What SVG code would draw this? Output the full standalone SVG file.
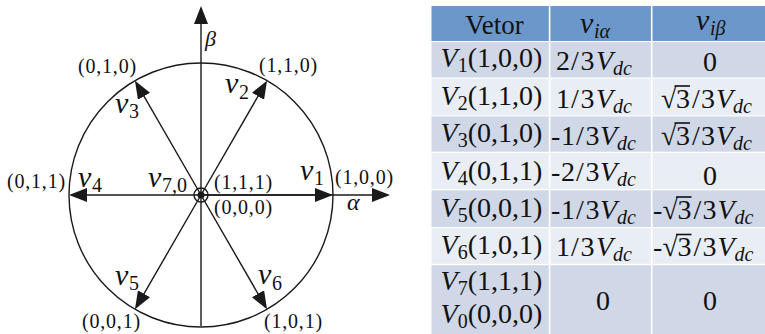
<svg xmlns="http://www.w3.org/2000/svg" width="765" height="334" viewBox="0 0 765 334">
<style>
.ln{stroke:#1a1a1a;stroke-width:1.4;fill:none}
.ar{stroke:#1a1a1a;stroke-width:1.4;fill:none;marker-end:url(#ah)}
.t{font-family:"Liberation Serif","Times New Roman",serif;fill:#111}
.i{font-style:italic}
.lab{font-size:20px;letter-spacing:0.8px}
.vl{font-size:30px;font-style:italic}
.vs{font-size:20px;font-style:normal}
.tb{font-size:28px}
.sb{font-size:20px}
.hd{fill:#6b97cb}
.dk{fill:#d0d8e8}
.lt{fill:#e9edf4}
.ov{stroke:#111;stroke-width:1.6}
</style>
<defs>
<marker id="ah" viewBox="0 0 18 14" markerWidth="18" markerHeight="14" refX="16" refY="7" orient="auto" markerUnits="userSpaceOnUse">
<path d="M0,0 L18,7 L0,14 Z" fill="#1a1a1a"/>
</marker>
</defs>
<rect width="765" height="334" fill="#fff"/>

<g id="circle">
<circle cx="201" cy="195" r="132" class="ln"/>
</g>

<g id="connectors">
<line class="ar" x1="201" y1="326" x2="201" y2="8"/>
<line class="ar" x1="201" y1="195" x2="388" y2="195"/>
<line class="ar" x1="201" y1="195" x2="331" y2="195"/>
<line class="ar" x1="201" y1="195" x2="71" y2="195"/>
<line class="ar" x1="201" y1="195" x2="266" y2="82.42"/>
<line class="ar" x1="201" y1="195" x2="136" y2="82.42"/>
<line class="ar" x1="201" y1="195" x2="136" y2="307.58"/>
<line class="ar" x1="201" y1="195" x2="266" y2="307.58"/>
</g>

<g id="origin">
<circle cx="201" cy="195" r="7" class="ln"/>
<circle cx="201" cy="195" r="3.5" fill="#1a1a1a"/>
</g>

<g id="axis-labels">
<text class="t i" style="font-size:22px" x="205" y="46">β</text>
<text class="t i" style="font-size:24px" x="347" y="210">α</text>
</g>

<g id="vector-labels">
<text class="t vl" x="115" y="113">v<tspan class="vs" x="129" y="118">3</tspan></text>
<text class="t vl" x="225" y="93">v<tspan class="vs" x="239" y="99">2</tspan></text>
<text class="t vl" x="300" y="180">v<tspan class="vs" x="314" y="185">1</tspan></text>
<text class="t vl" x="78" y="187">v<tspan class="vs" x="92" y="192">4</tspan></text>
<text class="t vl" x="148" y="187">v<tspan class="vs" x="162" y="192">7,0</tspan></text>
<text class="t vl" x="115" y="285">v<tspan class="vs" x="129" y="290">5</tspan></text>
<text class="t vl" x="258" y="284">v<tspan class="vs" x="272" y="290">6</tspan></text>
</g>

<g id="state-labels">
<text class="t lab" x="78" y="73">(0,1,0)</text>
<text class="t lab" x="259" y="72">(1,1,0)</text>
<text class="t lab" x="335" y="184">(1,0,0)</text>
<text class="t lab" x="7" y="188">(0,1,1)</text>
<text class="t lab" x="214" y="189">(1,1,1)</text>
<text class="t lab" x="214" y="214">(0,0,0)</text>
<text class="t lab" x="82" y="328">(0,0,1)</text>
<text class="t lab" x="264" y="328">(1,0,1)</text>
</g>

<g id="table">
<rect class="hd" x="431.5" y="6" width="333.5" height="35"/>
<rect class="dk" x="431.5" y="42" width="333.5" height="35.5"/>
<rect class="lt" x="431.5" y="78.8" width="333.5" height="36.5"/>
<rect class="dk" x="431.5" y="116.4" width="333.5" height="35.3"/>
<rect class="lt" x="431.5" y="153" width="333.5" height="36"/>
<rect class="dk" x="431.5" y="190.3" width="333.5" height="36.7"/>
<rect class="lt" x="431.5" y="228.2" width="333.5" height="35.6"/>
<rect class="dk" x="431.5" y="265.2" width="333.5" height="68.8"/>
<line x1="549.6" y1="0" x2="549.6" y2="334" stroke="#fff" stroke-width="1.6"/>
<line x1="651.7" y1="0" x2="651.7" y2="334" stroke="#fff" stroke-width="1.6"/>

<g id="header">
<text class="t" style="font-size:27px" x="494.5" y="34" text-anchor="middle">Vetor</text>
<text class="t vl" x="580" y="32.5">v<tspan class="i sb" x="594" y="37.5">iα</tspan></text>
<text class="t vl" x="696" y="29.5">v<tspan class="i sb" x="710" y="34.5">iβ</tspan></text>
</g>

<g id="col1">
<text class="t tb" x="491.5" y="67" text-anchor="middle"><tspan class="i">V</tspan><tspan class="sb" dy="5">1</tspan><tspan dy="-5">(1,0,0)</tspan></text>
<text class="t tb" x="491.5" y="105" text-anchor="middle"><tspan class="i">V</tspan><tspan class="sb" dy="5">2</tspan><tspan dy="-5">(1,1,0)</tspan></text>
<text class="t tb" x="491.5" y="142" text-anchor="middle"><tspan class="i">V</tspan><tspan class="sb" dy="5">3</tspan><tspan dy="-5">(0,1,0)</tspan></text>
<text class="t tb" x="491.5" y="179.5" text-anchor="middle"><tspan class="i">V</tspan><tspan class="sb" dy="5">4</tspan><tspan dy="-5">(0,1,1)</tspan></text>
<text class="t tb" x="491.5" y="216.5" text-anchor="middle"><tspan class="i">V</tspan><tspan class="sb" dy="5">5</tspan><tspan dy="-5">(0,0,1)</tspan></text>
<text class="t tb" x="491.5" y="253.5" text-anchor="middle"><tspan class="i">V</tspan><tspan class="sb" dy="5">6</tspan><tspan dy="-5">(1,0,1)</tspan></text>
<text class="t tb" x="491.5" y="290" text-anchor="middle"><tspan class="i">V</tspan><tspan class="sb" dy="5">7</tspan><tspan dy="-5">(1,1,1)</tspan></text>
<text class="t tb" x="491.5" y="323" text-anchor="middle"><tspan class="i">V</tspan><tspan class="sb" dy="5">0</tspan><tspan dy="-5">(0,0,0)</tspan></text>
</g>

<g id="col2">
<text class="t tb" y="70"><tspan x="556">2</tspan><tspan x="571">/</tspan><tspan x="580.5">3</tspan><tspan class="i" x="596">V</tspan><tspan class="i sb" x="613" dy="5">dc</tspan></text>
<text class="t tb" y="107.5"><tspan x="556">1</tspan><tspan x="571">/</tspan><tspan x="580.5">3</tspan><tspan class="i" x="596">V</tspan><tspan class="i sb" x="613" dy="5">dc</tspan></text>
<text class="t tb" y="144.5"><tspan x="551">-</tspan><tspan x="561">1</tspan><tspan x="576">/</tspan><tspan x="585.5">3</tspan><tspan class="i" x="600">V</tspan><tspan class="i sb" x="617" dy="5">dc</tspan></text>
<text class="t tb" y="181"><tspan x="551">-</tspan><tspan x="561">2</tspan><tspan x="576">/</tspan><tspan x="585.5">3</tspan><tspan class="i" x="600">V</tspan><tspan class="i sb" x="617" dy="5">dc</tspan></text>
<text class="t tb" y="218.5"><tspan x="551">-</tspan><tspan x="561">1</tspan><tspan x="576">/</tspan><tspan x="585.5">3</tspan><tspan class="i" x="600">V</tspan><tspan class="i sb" x="617" dy="5">dc</tspan></text>
<text class="t tb" y="256"><tspan x="556">1</tspan><tspan x="571">/</tspan><tspan x="580.5">3</tspan><tspan class="i" x="596">V</tspan><tspan class="i sb" x="613" dy="5">dc</tspan></text>
<text class="t tb" x="603" y="310" text-anchor="middle">0</text>
</g>

<g id="col3">
<text class="t tb" x="710" y="70.5" text-anchor="middle">0</text>
<text class="t tb" y="107.5"><tspan x="661">√</tspan><tspan x="676">3</tspan><tspan x="692">/</tspan><tspan x="701">3</tspan><tspan class="i" x="716">V</tspan><tspan class="i sb" x="733" dy="5">dc</tspan></text>
<line class="ov" x1="674.5" y1="86" x2="690" y2="86"/>
<text class="t tb" y="144.5"><tspan x="661">√</tspan><tspan x="676">3</tspan><tspan x="692">/</tspan><tspan x="701">3</tspan><tspan class="i" x="716">V</tspan><tspan class="i sb" x="733" dy="5">dc</tspan></text>
<line class="ov" x1="674.5" y1="123" x2="690" y2="123"/>
<text class="t tb" x="710" y="185" text-anchor="middle">0</text>
<text class="t tb" y="218.5"><tspan x="653">-</tspan><tspan x="662.5">√</tspan><tspan x="677.5">3</tspan><tspan x="693.5">/</tspan><tspan x="702.5">3</tspan><tspan class="i" x="717.5">V</tspan><tspan class="i sb" x="734.5" dy="5">dc</tspan></text>
<line class="ov" x1="676" y1="197" x2="691.5" y2="197"/>
<text class="t tb" y="256"><tspan x="653">-</tspan><tspan x="662.5">√</tspan><tspan x="677.5">3</tspan><tspan x="693.5">/</tspan><tspan x="702.5">3</tspan><tspan class="i" x="717.5">V</tspan><tspan class="i sb" x="734.5" dy="5">dc</tspan></text>
<line class="ov" x1="676" y1="234.5" x2="691.5" y2="234.5"/>
<text class="t tb" x="710" y="310" text-anchor="middle">0</text>
</g>
</g>
</svg>
